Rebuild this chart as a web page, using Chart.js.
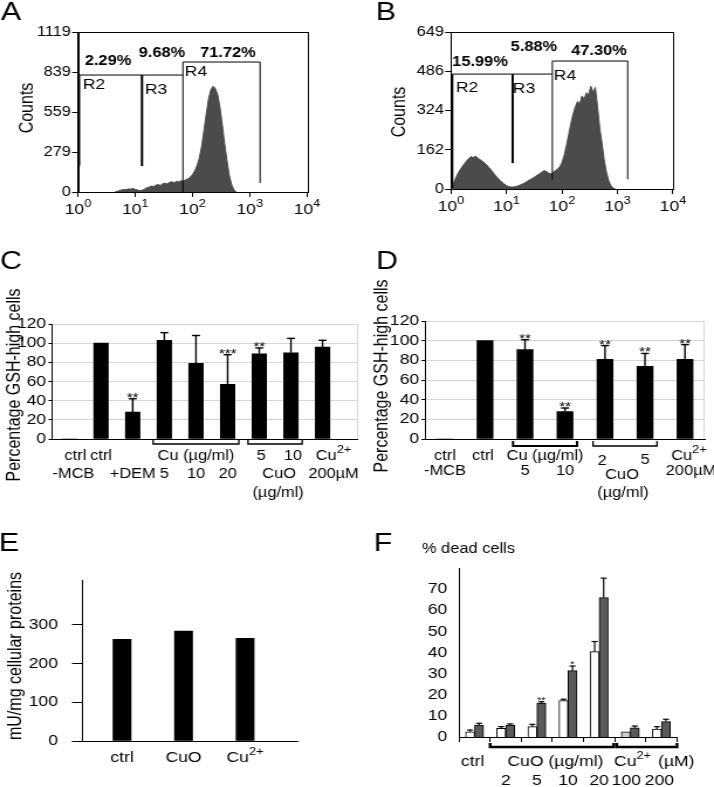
<!DOCTYPE html>
<html>
<head>
<meta charset="utf-8">
<title>GSH and CuO figure</title>
<script src="https://cdn.jsdelivr.net/npm/chart.js@4.4.1/dist/chart.umd.min.js"></script>
<style>
  html, body { margin: 0; padding: 0; background: #fff; }
  #fig { position: relative; width: 714px; height: 787px; overflow: hidden; background: #fff; }
  #fig canvas { position: absolute; left: 0; top: 0; width: 714px !important; height: 787px !important; }
</style>
</head>
<body>
<div id="fig">
  <canvas id="panelA" width="610" height="787" style="width:714px;height:787px"></canvas>
  <canvas id="panelB" width="610" height="787" style="width:714px;height:787px"></canvas>
  <canvas id="panelC" width="610" height="787" style="width:714px;height:787px"></canvas>
  <canvas id="panelD" width="610" height="787" style="width:714px;height:787px"></canvas>
  <canvas id="panelE" width="610" height="787" style="width:714px;height:787px"></canvas>
  <canvas id="panelF" width="610" height="787" style="width:714px;height:787px"></canvas>
</div>
<script>
// ---------- data ----------
const flowTicks = [1, 10, 100, 1000, 10000];

const aCountTicks = [0, 279, 559, 839, 1119];
const aLogBins = [0.64, 0.68, 0.72, 0.76, 0.80, 0.84, 0.88, 0.92, 0.96, 1.00, 1.04, 1.08, 1.12, 1.16, 1.20, 1.24, 1.28, 1.32, 1.36, 1.40, 1.44, 1.48, 1.52, 1.56, 1.60, 1.64, 1.68, 1.72, 1.76, 1.80, 1.84, 1.88, 1.92, 1.96, 2.00, 2.04, 2.08, 2.12, 2.16, 2.20, 2.24, 2.28, 2.32, 2.36, 2.40, 2.44, 2.48, 2.52, 2.56, 2.60, 2.64, 2.68, 2.72, 2.76];
const aCounts = [0, 4, 10, 14, 18, 16, 22, 20, 26, 18, 14, 10, 12, 20, 30, 34, 42, 38, 48, 52, 46, 58, 62, 56, 68, 72, 64, 76, 70, 80, 74, 86, 92, 104, 122, 148, 185, 240, 320, 430, 545, 650, 715, 740, 722, 680, 590, 470, 340, 225, 120, 55, 18, 0];
const aPercents = ['2.29%', '9.68%', '71.72%'];

const bCountTicks = [0, 162, 324, 486, 649];
const bLogBins = [0.00, 0.04, 0.08, 0.12, 0.16, 0.20, 0.24, 0.28, 0.32, 0.36, 0.40, 0.44, 0.48, 0.52, 0.56, 0.60, 0.64, 0.68, 0.72, 0.76, 0.80, 0.84, 0.88, 0.92, 0.96, 1.00, 1.04, 1.08, 1.12, 1.16, 1.20, 1.24, 1.28, 1.32, 1.36, 1.40, 1.44, 1.48, 1.52, 1.56, 1.60, 1.64, 1.68, 1.72, 1.76, 1.80, 1.84, 1.88, 1.92, 1.96, 2.00, 2.04, 2.08, 2.12, 2.16, 2.20, 2.24, 2.28, 2.32, 2.36, 2.40, 2.44, 2.48, 2.52, 2.56, 2.60, 2.64, 2.68, 2.72, 2.76, 2.80, 2.84, 2.88, 2.92, 2.96];
const bCounts = [0, 20, 42, 62, 78, 92, 104, 116, 126, 134, 130, 136, 128, 122, 116, 108, 100, 90, 80, 68, 56, 46, 36, 28, 20, 14, 10, 8, 8, 10, 12, 16, 20, 24, 30, 36, 40, 46, 52, 58, 64, 70, 76, 72, 66, 62, 70, 76, 82, 92, 110, 140, 180, 225, 270, 310, 340, 362, 352, 385, 372, 398, 390, 425, 400, 420, 340, 250, 190, 120, 70, 35, 14, 4, 0];
const bPercents = ['15.99%', '5.88%', '47.30%'];

// gate positions in data units (x = fluorescence, y = counts)
const aGates = { level: 818, r4Top: 909, r2: 1.04, r3: 13.1, r4: [68, 1514], r2Stop: 182, r3Stop: 182, r4Stop: [0, 63] };
const bGates = { level: 475, r4Top: 529, r2: 1.05, r3: 12.9, r4: [67, 1527], r2Stop: 5, r3Stop: 107, r4Stop: [40, 40] };

const gshTicks = [0, 20, 40, 60, 80, 100, 120];

const cCategories = ['ctrl -MCB', 'ctrl', '+DEM', 'Cu 5', 'Cu 10', 'Cu 20', 'CuO 5', 'CuO 10', 'Cu2+ 200µM'];
const cValues = [0, 100, 28, 103, 79, 57, 89, 90, 96];
const cErrors = [0, 0, 14, 8, 29, 31, 6, 15, 7];
const cStars = ['', '', '**', '', '', '***', '**', '', ''];
const cDoses = ['', '', '', '5', '10', '20', '5', '10', ''];

const dCategories = ['ctrl -MCB', 'ctrl', 'Cu 5', 'Cu 10', 'CuO 2', 'CuO 5', 'Cu2+ 200µM'];
const dValues = [0, 100, 91, 28, 81, 74, 81];
const dErrors = [0, 0, 10, 3.5, 14, 13, 15];
const dStars = ['', '', '**', '**', '**', '**', '**'];
const dDoses = ['', '', '5', '10', '2', '5', ''];

const eCategories = ['ctrl', 'CuO', 'Cu2+'];
const eValues = [263, 284, 265];
const eTicks = [0, 100, 200, 300];

const fGroups = ['ctrl', '2', '5', '10', '20', '100', '200'];
const fWhite = [2.5, 4.1, 4.9, 17.2, 40.4, 2.5, 3.8];
const fWhiteErr = [0.8, 0.8, 1.1, 0.7, 4.8, 0, 1.1];
const fGray = [5.7, 5.7, 16.0, 31.4, 66.0, 4.4, 7.3];
const fGrayErr = [0.8, 0.5, 0.7, 2.2, 9.2, 0.8, 1.1];
const fStars = ['', '', '**', '*', '', '', ''];
const fTicks = [0, 10, 20, 30, 40, 50, 60, 70];

// ---------- drawing setup ----------
// the original figure is stretched horizontally, so every canvas is drawn
// 610 wide and shown 714 wide
const CW = 610, CH = 787;
const SX = 714 / CW;
const P = x => x / SX;       // page x -> canvas x
const FONT = '"Liberation Sans", Arial, Helvetica, sans-serif';
const HIST = '#4b4b4b';

Chart.defaults.font.family = FONT;
Chart.defaults.color = '#000';
Chart.defaults.animation = false;
Chart.defaults.plugins.legend.display = false;
Chart.defaults.plugins.tooltip.enabled = false;

function padFor(left, top, right, bottom, yw, xh) {
  return { left: P(left) - yw, top: top, right: CW - P(right), bottom: CH - bottom - xh };
}

function text(ctx, s, x, y, size, opts) {
  opts = opts || {};
  ctx.save();
  ctx.font = (opts.bold ? 'bold ' : '') + size + 'px ' + FONT;
  ctx.fillStyle = '#000';
  ctx.textAlign = opts.align || 'center';
  ctx.textBaseline = opts.baseline || 'middle';
  if (opts.rotate) {
    ctx.translate(x, y);
    ctx.rotate(-Math.PI / 2);
    ctx.fillText(s, 0, 0);
  } else {
    ctx.fillText(s, x, y);
  }
  ctx.restore();
}

function supText(ctx, base, sup, x, y, size, align) {
  const small = Math.round(size * 0.75);
  ctx.save();
  ctx.font = size + 'px ' + FONT;
  const w1 = ctx.measureText(base).width;
  ctx.font = small + 'px ' + FONT;
  const w2 = ctx.measureText(sup).width;
  let x0 = x;
  if (align === 'center') x0 = x - (w1 + w2) / 2;
  if (align === 'right') x0 = x - w1 - w2;
  ctx.fillStyle = '#000';
  ctx.textAlign = 'left';
  ctx.textBaseline = 'middle';
  ctx.font = size + 'px ' + FONT;
  ctx.fillText(base, x0, y);
  ctx.font = small + 'px ' + FONT;
  ctx.fillText(sup, x0 + w1, y - size * 0.42);
  ctx.restore();
}

function line(ctx, pts, w, color) {
  ctx.save();
  ctx.beginPath();
  ctx.lineWidth = w;
  ctx.strokeStyle = color || '#000';
  pts.forEach((p, i) => i ? ctx.lineTo(p[0], p[1]) : ctx.moveTo(p[0], p[1]));
  ctx.stroke();
  ctx.restore();
}

function errorBar(ctx, x, yBar, yTop, half, w) {
  line(ctx, [[x, yBar], [x, yTop]], w);
  line(ctx, [[x - half, yTop], [x + half, yTop]], w);
}

// ---------- A and B: flow cytometry histograms ----------
function makeFlow(id, o) {
  const pts = o.bins.map((e, i) => ({ x: Math.pow(10, e), y: o.counts[i] }));
  return new Chart(document.getElementById(id), {
    type: 'line',
    data: {
      datasets: [{
        data: pts, borderColor: HIST, backgroundColor: HIST, borderWidth: 1,
        pointRadius: 0, fill: 'origin', tension: 0
      }]
    },
    options: {
      responsive: false, devicePixelRatio: 1,
      layout: { padding: padFor(o.box[0], o.box[1], o.box[2], o.box[3], 40, 40) },
      scales: {
        x: {
          type: 'logarithmic', min: 1, max: 10000,
          afterBuildTicks: s => { s.ticks = flowTicks.map(v => ({ value: v })); },
          afterFit: s => { s.height = 40; },
          ticks: { display: false },
          grid: { drawOnChartArea: false, tickLength: 5, color: '#000' },
          border: { color: '#000' }
        },
        y: {
          min: 0, max: o.yTicks[o.yTicks.length - 1],
          afterBuildTicks: s => { s.ticks = o.yTicks.map(v => ({ value: v })); },
          afterFit: s => { s.width = 40; },
          ticks: { callback: v => String(v), font: { size: 14 }, padding: 1, color: '#000', autoSkip: false },
          grid: { drawOnChartArea: false, tickLength: 5, color: '#000' },
          border: { color: '#000' }
        }
      }
    },
    plugins: [{
      id: 'flowDeco',
      afterDraw(chart) {
        const ctx = chart.ctx, a = chart.chartArea;
        const X = v => chart.scales.x.getPixelForValue(v);
        const Y = v => chart.scales.y.getPixelForValue(v);
        const g = o.gates;
        ctx.save();
        ctx.strokeStyle = '#000';
        ctx.lineWidth = 1;
        ctx.strokeRect(Math.round(a.left) + 0.5, Math.round(a.top) + 0.5,
          Math.round(a.right - a.left), Math.round(a.bottom - a.top));
        ctx.restore();
        line(ctx, [[X(g.r2), Y(g.level)], [X(g.r4[0]), Y(g.level)]], 1);
        line(ctx, [[X(g.r2), Y(g.r2Stop)], [X(g.r2), Y(g.level)]], 2);
        line(ctx, [[X(g.r3), Y(g.r3Stop)], [X(g.r3), Y(g.level)]], 2);
        line(ctx, [[X(g.r4[0]), Y(g.r4Stop[0])], [X(g.r4[0]), Y(g.r4Top)],
          [X(g.r4[1]), Y(g.r4Top)], [X(g.r4[1]), Y(g.r4Stop[1])]], 1);
        flowTicks.forEach((v, k) => supText(ctx, '10', String(k), X(v), o.tickY, 15, 'center'));
        o.percents.forEach((p, i) => text(ctx, p, P(o.pctPos[i][0]), o.pctPos[i][1], 14, { bold: true }));
        ['R2', 'R3', 'R4'].forEach((r, i) => text(ctx, r, P(o.rPos[i][0]), o.rPos[i][1], 15));
        text(ctx, 'Counts', P(o.titlePos[0]), o.titlePos[1], 16, { rotate: true });
        text(ctx, o.letter, P(o.letterPos[0]), o.letterPos[1], 26);
      }
    }]
  });
}

makeFlow('panelA', {
  bins: aLogBins, counts: aCounts, yTicks: aCountTicks, gates: aGates, percents: aPercents,
  box: [78, 32, 307, 192], tickY: 210,
  pctPos: [[108, 61], [162, 53], [228, 53]],
  rPos: [[94, 85], [156, 90], [196, 72]],
  titlePos: [28, 108], letter: 'A', letterPos: [11, 13]
});

makeFlow('panelB', {
  bins: bLogBins, counts: bCounts, yTicks: bCountTicks, gates: bGates, percents: bPercents,
  box: [451, 32, 673, 189], tickY: 207,
  pctPos: [[480, 62], [534, 47], [599, 51]],
  rPos: [[467, 88], [524, 89], [565, 76]],
  titlePos: [400, 112], letter: 'B', letterPos: [386, 13]
});

// ---------- C and D: GSH-high cells ----------
function makeGsh(id, o) {
  return new Chart(document.getElementById(id), {
    type: 'bar',
    data: {
      datasets: [{
        data: o.values.map((v, i) => ({ x: i, y: v })),
        backgroundColor: '#000', barThickness: P(o.barW)
      }]
    },
    options: {
      responsive: false, devicePixelRatio: 1,
      layout: { padding: padFor(o.box[0], o.box[1], o.box[2], o.box[3], 36, 60) },
      scales: {
        x: {
          type: 'linear', min: o.xRange[0], max: o.xRange[1], offset: false,
          ticks: { display: false },
          grid: { display: false, offset: false },
          border: { color: '#000' },
          afterFit: s => { s.height = 60; }
        },
        y: {
          min: 0, max: 120,
          afterBuildTicks: s => { s.ticks = gshTicks.map(v => ({ value: v })); },
          afterFit: s => { s.width = 36; },
          ticks: { font: { size: 15 }, padding: 2, autoSkip: false },
          grid: { color: '#d6d6d6', tickColor: '#000', tickLength: 3 },
          border: { color: '#000' }
        }
      }
    },
    plugins: [{
      id: 'gshDeco',
      afterDraw(chart) {
        const ctx = chart.ctx, a = chart.chartArea, ys = chart.scales.y;
        const bars = chart.getDatasetMeta(0).data;
        line(ctx, [[Math.round(a.right) - 0.5, a.top], [Math.round(a.right) - 0.5, a.bottom]], 1, '#d6d6d6');
        bars.forEach((bar, i) => {
          if (!o.errors[i]) return;
          const top = ys.getPixelForValue(o.values[i] + o.errors[i]);
          errorBar(ctx, bar.x, bar.y, top, P(4), 1.4);
          if (o.stars[i]) text(ctx, o.stars[i], bar.x, top + 3, 13, { baseline: 'alphabetic' });
        });
        o.brackets.forEach(([i, j, w]) => {
          const x1 = bars[i].x - bars[i].width / 2 - P(4);
          const x2 = bars[j].x + bars[j].width / 2 + P(4);
          line(ctx, [[x1, o.bracketY - 5], [x1, o.bracketY], [x2, o.bracketY], [x2, o.bracketY - 5]], w);
        });
        o.drawLabels(ctx, bars);
        text(ctx, 'Percentage GSH-high cells', P(o.titlePos[0]), o.titlePos[1], 16, { rotate: true });
        text(ctx, o.letter, P(o.letterPos[0]), o.letterPos[1], 26);
      }
    }]
  });
}

makeGsh('panelC', {
  values: cValues, errors: cErrors, stars: cStars, barW: 14.5,
  box: [52, 324, 358, 439], xRange: [-0.55, 9.12],
  brackets: [[3, 5, 1.3], [6, 7, 1.3]], bracketY: 444,
  titlePos: [15, 385], letter: 'C', letterPos: [11, 262],
  drawLabels(ctx, bars) {
    const r1 = 456, r2 = 474, r3 = 493, s = 14;
    const X = i => bars[i].x;
    text(ctx, 'ctrl', X(0) + P(6), r1, s);
    text(ctx, '-MCB', X(0) + P(4), r2, s);
    text(ctx, 'ctrl', X(1), r1, s);
    text(ctx, '+DEM', X(2), r2, s);
    text(ctx, 'Cu (µg/ml)', X(4), r1, s);
    [3, 4, 5].forEach(i => text(ctx, cDoses[i], X(i), r2, s));
    [6, 7].forEach(i => text(ctx, cDoses[i], X(i) + P(2), r1, s));
    text(ctx, 'CuO', (X(6) + X(7)) / 2 + P(4), r2, s);
    text(ctx, '(µg/ml)', (X(6) + X(7)) / 2 + P(3), r3, s);
    supText(ctx, 'Cu', '2+', X(8) + P(11), r1, s, 'center');
    text(ctx, '200µM', X(8) + P(11), r2, s);
  }
});

makeGsh('panelD', {
  values: dValues, errors: dErrors, stars: dStars, barW: 16,
  box: [425, 321, 705, 439], xRange: [-0.5, 6.5],
  brackets: [[2, 3, 2], [4, 5, 1.3]], bracketY: 446,
  titlePos: [382, 376], letter: 'D', letterPos: [387, 262],
  drawLabels(ctx, bars) {
    const r1 = 456, r2 = 471, s = 14;
    const X = i => bars[i].x;
    text(ctx, 'ctrl', X(0), r1, s);
    text(ctx, '-MCB', X(0), r2, s);
    text(ctx, 'ctrl', X(1) - P(2), r1, s);
    text(ctx, 'Cu (µg/ml)', (X(2) + X(3)) / 2, r1, s);
    text(ctx, dDoses[2], X(2), r2, s);
    text(ctx, dDoses[3], X(3), r2, s);
    text(ctx, dDoses[4], X(4) - P(3), 461, s);
    text(ctx, dDoses[5], X(5), 460, s);
    text(ctx, 'CuO', (X(4) + X(5)) / 2 - P(3), 475, s);
    text(ctx, '(µg/ml)', (X(4) + X(5)) / 2 - P(2), 493, s);
    supText(ctx, 'Cu', '2+', X(6) + P(4), r1, s, 'center');
    text(ctx, '200µM', X(6) + P(6), r2, s);
  }
});

// ---------- E: enzyme activity ----------
new Chart(document.getElementById('panelE'), {
  type: 'bar',
  data: {
    datasets: [{
      data: eValues.map((v, i) => ({ x: i + 1, y: v })),
      backgroundColor: '#000', barThickness: P(18)
    }]
  },
  options: {
    responsive: false, devicePixelRatio: 1,
    layout: { padding: padFor(83, 580, 298, 741, 50, 40) },
    scales: {
      x: {
        type: 'linear', min: 0.366, max: 3.86, offset: false,
        ticks: { display: false }, grid: { display: false },
        border: { color: '#000' },
        afterFit: s => { s.height = 40; }
      },
      y: {
        min: 0, max: 416,
        afterBuildTicks: s => { s.ticks = eTicks.map(v => ({ value: v })); },
        afterFit: s => { s.width = 50; },
        ticks: { font: { size: 15 }, padding: P(14), autoSkip: false },
        grid: { drawOnChartArea: false, tickLength: P(11), color: '#000' },
        border: { color: '#000' }
      }
    }
  },
  plugins: [{
    id: 'eDeco',
    afterDraw(chart) {
      const ctx = chart.ctx;
      const bars = chart.getDatasetMeta(0).data;
      text(ctx, eCategories[0], bars[0].x, 758, 15);
      text(ctx, eCategories[1], bars[1].x, 758, 15);
      supText(ctx, 'Cu', '2+', bars[2].x, 758, 15, 'center');
      text(ctx, 'mU/mg cellular proteins', P(16), 656, 16, { rotate: true });
      text(ctx, 'E', P(9), 544, 26);
    }
  }]
});

// ---------- F: % dead cells ----------
new Chart(document.getElementById('panelF'), {
  type: 'bar',
  data: {
    labels: fGroups,
    datasets: [
      {
        data: fWhite, borderColor: '#000', borderWidth: 1, barThickness: P(9),
        backgroundColor: fGroups.map(g => g === '100' ? '#cfcfcf' : '#fff')
      },
      {
        data: fGray, borderColor: '#000', borderWidth: 1, barThickness: P(9),
        backgroundColor: '#5a5a5a'
      }
    ]
  },
  options: {
    responsive: false, devicePixelRatio: 1,
    layout: { padding: padFor(459, 568, 677, 737, 30, 50) },
    scales: {
      x: {
        ticks: { display: false },
        grid: { offset: true, drawOnChartArea: false, tickLength: 5, color: '#000' },
        border: { color: '#000' },
        afterFit: s => { s.height = 50; }
      },
      y: {
        min: 0, max: 80,
        afterBuildTicks: s => { s.ticks = fTicks.map(v => ({ value: v })); },
        afterFit: s => { s.width = 30; },
        ticks: { font: { size: 15 }, padding: 10, autoSkip: false },
        grid: { display: false, drawTicks: false },
        border: { color: '#000' }
      }
    }
  },
  plugins: [{
    id: 'fDeco',
    afterDraw(chart) {
      const ctx = chart.ctx, ys = chart.scales.y, xs = chart.scales.x;
      const white = chart.getDatasetMeta(0).data, gray = chart.getDatasetMeta(1).data;
      white.forEach((bar, i) => {
        if (!fWhiteErr[i]) return;
        errorBar(ctx, bar.x, bar.y, ys.getPixelForValue(fWhite[i] + fWhiteErr[i]), P(3), 1.2);
      });
      gray.forEach((bar, i) => {
        const top = ys.getPixelForValue(fGray[i] + fGrayErr[i]);
        errorBar(ctx, bar.x, bar.y, top, P(3), 1.2);
        if (fStars[i]) text(ctx, fStars[i], bar.x, top + 1, 9, { baseline: 'alphabetic' });
      });
      const X = i => xs.getPixelForValue(i);
      const half = (X(1) - X(0)) / 2;
      const by = 747;
      line(ctx, [[X(1) - half, by - 4], [X(1) - half, by], [X(4) + half - P(1), by], [X(4) + half - P(1), by - 4]], 2.5);
      line(ctx, [[X(5) - half + P(2), by - 4], [X(5) - half + P(2), by], [X(6) + half, by], [X(6) + half, by - 4]], 2.5);
      text(ctx, fGroups[0], X(0) - P(2), 762, 15);
      text(ctx, 'CuO (µg/ml)', (X(1) + X(4)) / 2 + P(3), 762, 15);
      supText(ctx, 'Cu', '2+', P(614), 762, 15, 'left');
      text(ctx, '(µM)', P(658), 762, 15, { align: 'left' });
      [1, 2, 3, 4].forEach(i => text(ctx, fGroups[i], X(i), 781, 15));
      text(ctx, fGroups[5], X(5) - P(4), 781, 15);
      text(ctx, fGroups[6], X(6) - P(2), 781, 15);
      text(ctx, '% dead cells', P(422), 549, 14, { align: 'left' });
      text(ctx, 'F', P(383), 544, 26);
    }
  }]
});
</script>
</body>
</html>
